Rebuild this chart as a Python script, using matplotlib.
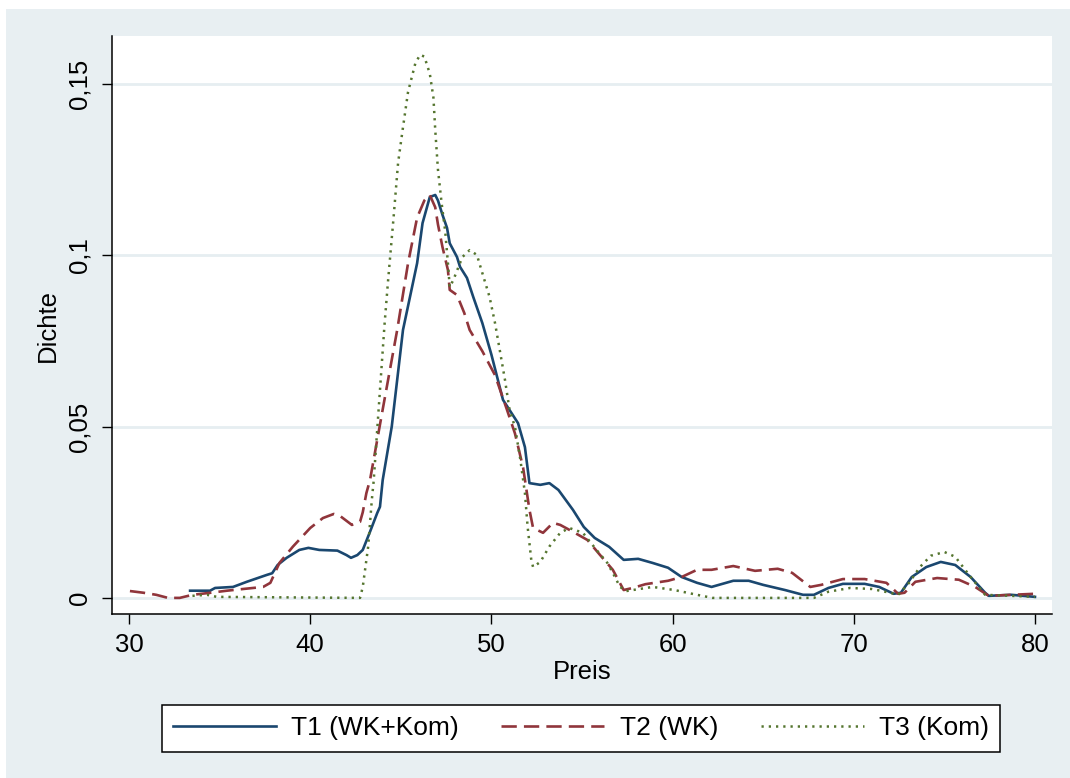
import matplotlib
matplotlib.use("Agg")
import matplotlib.pyplot as plt
from matplotlib.patches import Rectangle
from matplotlib.ticker import FixedLocator, FuncFormatter

plt.rcParams["font.family"] = ["Liberation Sans", "DejaVu Sans"]

# Kernel density estimates of the price, per treatment
t1_preis = [33.37, 34.47, 34.75, 35.74, 36.5, 37.6, 37.9, 38.2, 38.7, 39.4, 39.9, 40.5,
            41.5, 42.0, 42.25, 42.6, 42.9, 43.3, 43.7, 43.85, 44.0, 44.5, 45.12, 45.9,
            46.2, 46.6, 46.9, 47.05, 47.3, 47.55, 47.7, 48.1, 48.27, 48.65, 49.0, 49.5,
            50.0, 50.64, 51.47, 51.85, 52.1, 52.7, 53.2, 53.7, 54.5, 55.1, 55.7, 56.5,
            57.3, 58.1, 58.9, 59.75, 60.5, 61.35, 62.15, 63.35, 64.2, 65.0, 66.2, 67.2,
            67.8, 68.6, 69.4, 70.6, 71.4, 72.2, 72.6, 73.2, 74.0, 74.8, 75.6, 76.45,
            77.25, 77.45, 78.7, 80.0]
t1_dichte = [0.0021, 0.0021, 0.0029, 0.0032, 0.0047, 0.0067, 0.0072, 0.0096, 0.0117, 0.0140,
             0.0146, 0.0140, 0.0138, 0.0125, 0.0117, 0.0125, 0.0140, 0.0193, 0.0248, 0.0266,
             0.0344, 0.050, 0.0782, 0.0977, 0.1094, 0.117, 0.1176, 0.116, 0.1118, 0.108,
             0.1035, 0.0995, 0.0966, 0.0934, 0.0878, 0.0802, 0.071, 0.0578, 0.051, 0.044,
             0.0335, 0.033, 0.0335, 0.0315, 0.0257, 0.0207, 0.0175, 0.0149, 0.0111, 0.0114,
             0.0102, 0.0088, 0.0061, 0.0044, 0.0032, 0.0050, 0.0050, 0.0038, 0.0023, 0.0009,
             0.0009, 0.0029, 0.0041, 0.0041, 0.0032, 0.0012, 0.0015, 0.0061, 0.0090, 0.0105,
             0.0096, 0.0061, 0.0015, 0.0006, 0.0009, 0.0003]

t2_preis = [30.05, 30.8, 31.5, 32.15, 32.8, 33.5, 34.5, 35.4, 36.3, 37.4, 37.8, 38.3,
            39.05, 40.0, 40.7, 41.3, 41.65, 42.3, 42.75, 42.9, 43.1, 43.3, 44.0, 44.8,
            45.4, 45.9, 46.3, 46.6, 46.9, 47.05, 47.3, 47.6, 47.7, 48.1, 48.5, 48.8,
            49.5, 50.2, 50.86, 51.3, 51.75, 52.1, 52.3, 52.85, 53.4, 53.8, 54.5, 55.3,
            56.0, 56.7, 57.3, 57.8, 58.5, 59.75, 60.5, 61.35, 62.15, 63.35, 64.55, 65.8,
            66.6, 67.6, 68.2, 69.4, 70.6, 71.8, 72.45, 72.8, 73.4, 74.6, 75.8, 76.7,
            77.45, 78.7, 80.0]
t2_dichte = [0.0020, 0.0015, 0.0009, 0.0, 0.0, 0.0009, 0.0015, 0.0021, 0.0026, 0.0032,
             0.0044, 0.0102, 0.0150, 0.0204, 0.0233, 0.0245, 0.0239, 0.0213, 0.0222, 0.0250,
             0.0306, 0.0344, 0.055, 0.0782, 0.0977, 0.111, 0.116, 0.1176, 0.114, 0.109,
             0.1024, 0.0957, 0.0899, 0.0884, 0.0832, 0.0782, 0.072, 0.065, 0.0549, 0.048,
             0.038, 0.0257, 0.0204, 0.0190, 0.0219, 0.0213, 0.0193, 0.0169, 0.0125, 0.0082,
             0.0023, 0.0029, 0.0040, 0.0050, 0.0061, 0.0082, 0.0082, 0.0093, 0.0079, 0.0085,
             0.0073, 0.0032, 0.0038, 0.0055, 0.0055, 0.0044, 0.0012, 0.0015, 0.0047, 0.0058,
             0.0053, 0.0032, 0.0006, 0.0009, 0.0012]

t3_preis = [33.5, 34.3, 34.85, 42.75, 42.9, 43.2, 43.4, 43.5, 44.1, 44.3, 44.6, 44.85,
            45.1, 45.4, 45.8, 46.06, 46.3, 46.6, 46.8, 46.9, 47.05, 47.25, 47.45, 47.6,
            47.7, 47.9, 48.4, 48.8, 49.2, 49.5, 49.9, 50.2, 50.75, 51.0, 51.3, 51.6,
            51.85, 52.0, 52.2, 52.3, 52.7, 53.2, 53.8, 54.3, 55.05, 55.8, 56.4, 56.7,
            57.1, 57.45, 58.9, 60.1, 61.35, 62.2, 67.8, 68.6, 69.8, 71.0, 72.0, 72.45,
            73.05, 73.65, 74.25, 75.0, 75.6, 76.45, 77.25, 78.7, 80.0]
t3_dichte = [0.0006, 0.0009, 0.0003, 0.0, 0.0032, 0.0150, 0.0286, 0.034, 0.0797, 0.0928,
             0.111, 0.127, 0.1366, 0.1477, 0.156, 0.1585, 0.158, 0.153, 0.146, 0.1366,
             0.125, 0.1153, 0.107, 0.0977, 0.0907, 0.0928, 0.0995, 0.1015, 0.1001, 0.0948,
             0.0878, 0.0802, 0.0636, 0.0549, 0.0499, 0.0403, 0.0306, 0.0207, 0.0111, 0.0090,
             0.0105, 0.0150, 0.0190, 0.0204, 0.0190, 0.0140, 0.0102, 0.0073, 0.0032, 0.0020,
             0.0032, 0.0023, 0.0009, 0.0, 0.0, 0.0018, 0.0029, 0.0026, 0.0015, 0.0009,
             0.0044, 0.0090, 0.0123, 0.0134, 0.0120, 0.0061, 0.0009, 0.0006, 0.0003]

labels = ["T1 (WK+Kom)", "T2 (WK)", "T3 (Kom)"]
x_ticks = [30, 40, 50, 60, 70, 80]
y_ticks = [0, 0.05, 0.1, 0.15]

NAVY = "#1a476f"
MAROON = "#90353b"
GREEN = "#55752f"
REGION = "#e8eff2"
GRID = "#e6eef1"

W, H = 1070, 778
fig = plt.figure(figsize=(W / 100, H / 100), dpi=100, facecolor="white")

# light graph region behind the plot
bg = Rectangle((6 / W, 0), 1 - 6 / W, 1 - 9 / H, transform=fig.transFigure,
               facecolor=REGION, edgecolor="none", zorder=-10)
fig.add_artist(bg)

ax = fig.add_axes([112 / W, 1 - 614 / H, (1052 - 112) / W, (614 - 36) / H])
ax.set_facecolor("white")

ax.plot(t1_preis, t1_dichte, color=NAVY, lw=1.9, label=labels[0],
        solid_joinstyle="round")
ax.plot(t2_preis, t2_dichte, color=MAROON, lw=1.9, label=labels[1],
        linestyle=(0, (5.8, 2.7)))
ax.plot(t3_preis, t3_dichte, color=GREEN, lw=1.8, label=labels[2],
        linestyle=(0, (0.9, 2.0)))

ax.set_xlim(29.06, 80.94)
ax.set_ylim(-0.0047, 0.164)

ax.xaxis.set_major_locator(FixedLocator(x_ticks))
ax.yaxis.set_major_locator(FixedLocator(y_ticks))
ax.yaxis.set_major_formatter(FuncFormatter(lambda v, p: f"{v:g}".replace(".", ",")))

ax.grid(axis="y", color=GRID, lw=2.0)
ax.set_axisbelow(True)

for s in ["top", "right"]:
    ax.spines[s].set_visible(False)
for s in ["left", "bottom"]:
    ax.spines[s].set_linewidth(1.1)
    ax.spines[s].set_color("black")

ax.tick_params(axis="both", length=7.5, width=1.0, colors="black", labelsize=18.5)
ax.tick_params(axis="x", pad=6)
ax.tick_params(axis="y", pad=7)
for lab in ax.get_yticklabels():
    lab.set_rotation(90)
    lab.set_va("center")

ax.set_xlabel("Preis", fontsize=18.5, labelpad=2)
ax.set_ylabel("Dichte", fontsize=18.5, labelpad=6)

leg = fig.legend(loc="center", bbox_to_anchor=(581 / W, 1 - 728.5 / H), ncol=3,
                 fontsize=19, frameon=True, fancybox=False, framealpha=1,
                 edgecolor="black", handlelength=3.9, handletextpad=0.6,
                 columnspacing=1.6, borderpad=0.42)
leg.get_frame().set_linewidth(1.1)

fig.savefig("out.png", dpi=100, facecolor="white")
